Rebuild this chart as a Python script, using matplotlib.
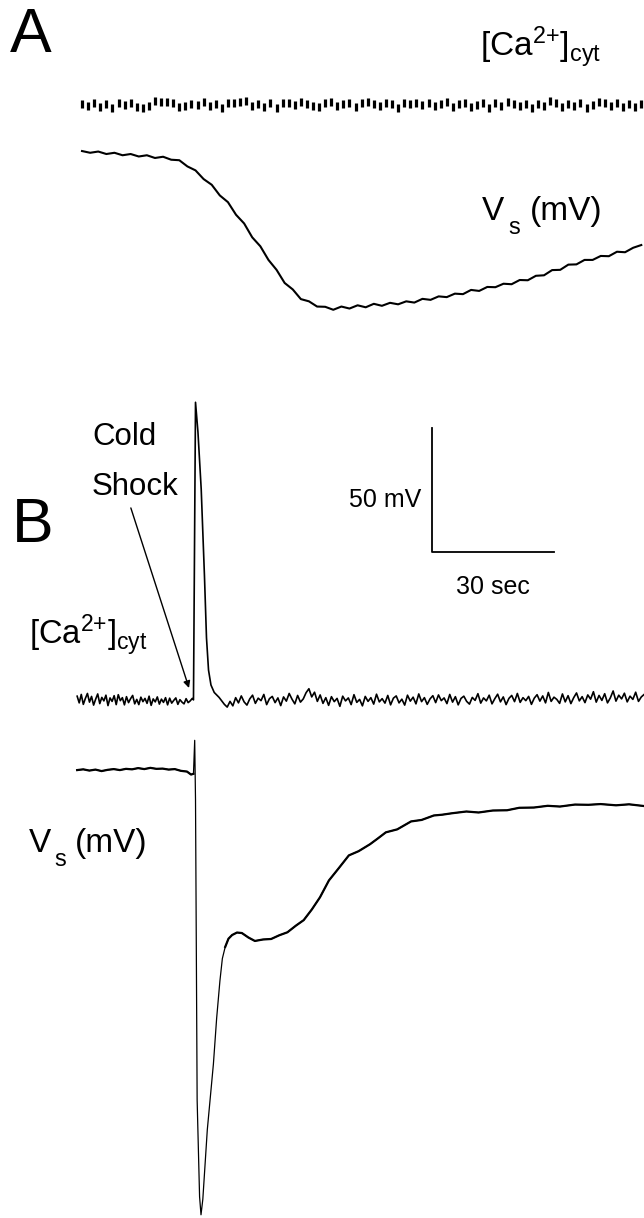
import numpy as np
import matplotlib
matplotlib.use('Agg')
import matplotlib.pyplot as plt

plt.rcParams['font.family'] = ['Liberation Sans', 'DejaVu Sans']
plt.rcParams['mathtext.fontset'] = 'custom'
plt.rcParams['mathtext.rm'] = 'Liberation Sans'
plt.rcParams['mathtext.it'] = 'Liberation Sans:italic'
plt.rcParams['mathtext.bf'] = 'Liberation Sans:bold'

# --- data (time in s, signal in mV relative to each trace's baseline) ---
# panel A, cytosolic Ca2+ (flat, beaded scan)
ca_a = [0.4, -0.3, 0.8, -0.8, 0.2, -1.2, 0.9, 0.1, 0.6, -0.9, -1.1, -0.4, 1.5, 1.3, 1.0, 0.9,
        -1.0, -0.3, 0.2, -0.2, 1.2, -0.6, 0.4, -1.1, 0.6, 0.9, 1.1, 1.4, -0.5, 0.3, -0.8, 0.8,
        -1.3, 0.9, 0.6, -0.2, 1.0, 0.5, -0.6, -0.9, 0.7, 1.2, -0.4, 0.3, 0.9, -0.7, 0.8, 1.0,
        0.2, -0.5, 0.6, 0.4, -1.2, 0.9, 0.3, 0.7, -0.1, 0.9, -0.6, 0.5, 1.1, -0.8, 0.4, 0.7,
        -1.0, -0.2, 0.6, -1.4, 0.8, -0.3, 1.3, 0.2, -0.6, 0.5, -1.1, 0.3, -0.4, 1.4, 0.6, -0.9,
        0.2, -0.5, 0.7, -1.2, 0.1, 1.0, 0.8, -0.3, 0.6, -0.7, 0.4, -0.9, 0.2]

# panel A, surface potential
vs_a = [-0.4, -1.1, -0.6, -1.6, -1.1, -2.1, -1.6, -2.6, -2.1, -3.2,
        -2.7, -3.9, -4.1, -6.6, -8.2, -11.7, -14.0, -18.3, -21.0, -26.1,
        -29.6, -35.2, -38.8, -44.3, -48.3, -53.6, -56.2, -60.1, -61.0, -63.1,
        -63.2, -64.4, -63.1, -63.9, -62.6, -63.4, -62.0, -62.8, -61.6, -62.2,
        -61.0, -61.5, -60.0, -60.4, -59.0, -59.3, -57.9, -58.1, -56.4, -56.8,
        -55.2, -55.3, -53.9, -54.1, -52.4, -52.5, -50.7, -50.5, -48.4, -48.3,
        -46.2, -46.1, -44.3, -44.3, -42.7, -42.8, -41.0, -41.2, -39.4, -38.3]

# panel B, Ca2+ : noise before shock, spike, noise after
ca_b_pre = [1.5, -1.2, 2.2, -1.8, 0.6, 2.6, -0.9, 1.4, -2.1, 0.3,
            2.4, -1.5, 1.0, -0.4, 1.9, -2.3, 0.8, -0.6, 1.7, -1.9,
            2.1, -0.3, 0.9, -2.0, 1.3, -1.1, 0.5, 1.8, -1.6, 0.2,
            -1.9, 1.1, -0.7, 0.6, -1.4, 1.5, -2.2, 0.4, -0.8, 1.2,
            -1.7, 0.3, -1.0, 0.9, -2.0, 0.7, -1.3, -0.2, 0.8, -1.8,
            0.1, -0.9, -1.6, 0.5, -1.1, -0.4, 0.6]
ca_b_spike_t = [27.9, 28.4, 29.0, 29.8, 30.6, 31.1, 31.6, 32.2, 33.0, 34.2]
ca_b_spike = [0.0, 120.0, 108.0, 85.0, 50.0, 25.0, 12.0, 6.0, 3.0, 1.0]
ca_b_post = [-1.8, -2.9, -0.6, -2.4, 0.9, -1.2, 1.6, -0.8, -2.1, 0.4,
             1.9, -1.4, 0.7, -0.3, 2.2, -1.9, 0.5, 1.4, -1.1, 0.8,
             -2.3, 1.2, -0.5, 2.6, 0.3, -1.6, 1.8, -0.9, 0.4, 2.9,
             4.5, 1.2, 3.1, -0.6, 2.0, -1.4, 0.9, -2.2, 1.3, -0.7,
             0.6, -2.6, 1.5, -0.4, 0.8, -1.9, 2.1, -1.0, 0.2, -2.4,
             1.4, -0.6, 0.9, -1.7, 2.3, -0.8, 0.5, -1.3, 1.8, -2.0,
             0.7, 1.6, -1.2, 0.3, -2.1, 1.9, -0.5, 1.1, -1.6, 2.4,
             -0.7, 0.9, -1.8, 0.4, 1.7, -1.1, 2.0, -0.3, 0.8, -1.5,
             2.2, -0.9, 1.3, -2.0, 0.6, 1.5, -0.6, -1.7, 1.0, -0.2,
             2.5, -1.3, 0.8, -0.4, 1.9, -1.6, 0.5, 2.3, -0.8, 1.2,
             -1.9, 0.6, 1.8, -0.7, 2.6, -1.0, 0.9, -0.3, 1.4, -1.8,
             0.7, 2.1, -0.5, 1.6, -1.2, 3.0, -0.6, 1.1, 0.2, -1.4,
             2.4, -0.8, 1.7, -1.5, 0.9, 2.8, -0.4, 1.3, -1.1, 2.0,
             0.3, 3.3, -0.9, 1.8, -0.2, 2.5, -1.2, 0.8, 3.6, -0.5,
             1.9, 0.4, 2.7, -0.8, 1.5, 0.2, 3.1, -0.6, 1.2, 2.2]

# panel B, surface potential
vs_b_t = [-0.7, 0.8, 2.3, 3.8, 5.3, 6.8, 8.3, 9.8, 11.3, 12.8, 14.3, 15.8, 17.3, 18.8, 20.3,
          21.8, 23.3, 24.8, 26.3, 27.3, 27.9,
          28.2, 28.4, 28.8, 29.4, 29.75, 30.2, 31.3, 32.8, 33.6, 34.4, 35.0, 35.7, 36.5, 37.4,
          38.6, 39.8, 41.4, 43.0, 45.0, 47.0, 49.0, 51.0, 53.1, 55.0, 57.0, 59.0, 61.2, 63.5,
          66.1, 68.5, 71.3, 73.2, 75.2, 78.0, 81.4, 84.0, 87.0, 89.0, 91.5, 93.0, 95.0, 98.0,
          101.5, 105.0, 108.0, 111.6, 115.0, 118.0, 121.7, 125.0, 128.0, 131.8, 135.0, 138.7]
vs_b = [0.0, 0.3, -0.2, 0.2, -0.4, 0.1, 0.4, 0.0, 0.5, 0.3, 0.8, 0.4, 0.9, 0.5, 0.6,
        0.2, 0.4, -0.3, -0.6, -1.8, -1.5,
        12.0, -12.0, -133.0, -172.0, -179.3, -173.0, -145.0, -118.5, -100.0, -85.0, -76.0, -71.3, -68.0, -66.5,
        -65.5, -65.7, -67.5, -68.9, -68.3, -68.1, -66.6, -65.4, -62.7, -60.5, -56.2, -51.3, -44.5, -39.8,
        -34.4, -32.7, -29.9, -27.6, -25.1, -23.9, -20.7, -20.1, -18.3, -18.0, -17.4, -17.1, -16.7, -17.1,
        -16.3, -16.2, -15.2, -15.1, -14.4, -14.7, -13.9, -14.0, -13.7, -14.2, -13.8, -14.5]

# --- layout: baselines of the traces on a shared (s, mV) canvas ---
base_ca_a = -42.3
base_vs_a = -60.5
base_ca_b = -282.2
base_vs_b = -310.5

fig = plt.figure(figsize=(6.44, 12.18), dpi=100)
ax = fig.add_axes([0, 0, 1, 1])
ax.set_xlim(-19.67, 138.67)
ax.set_ylim(-491.1, 0)
ax.axis('off')

# panel A
t_ca_a = np.linspace(0.5, 138.0, len(ca_a))
ax.plot(t_ca_a, np.array(ca_a) + base_ca_a, linestyle='none', marker='|',
        ms=5.5, mew=2.3, color='black')
t_vs_a = np.linspace(0.5, 138.0, len(vs_a))
ax.plot(t_vs_a, np.array(vs_a) + base_vs_a, color='black', lw=1.5)

# panel B, Ca2+
t_pre = np.linspace(-0.7, 27.6, len(ca_b_pre))
t_post = np.linspace(35.5, 138.7, len(ca_b_post))
t_ca_b = np.concatenate([t_pre, ca_b_spike_t, t_post])
v_ca_b = np.concatenate([ca_b_pre, ca_b_spike, ca_b_post])
ax.plot(t_ca_b, v_ca_b + base_ca_b, color='black', lw=1.2)

# panel B, Vs: thin for the fast part, thicker for slow parts
t_vb = np.array(vs_b_t)
v_vb = np.array(vs_b) + base_vs_b
ax.plot(t_vb, v_vb, color='black', lw=0.9)
slow1 = t_vb <= 27.9
slow2 = t_vb >= 35.7
ax.plot(t_vb[slow1], v_vb[slow1], color='black', lw=1.6)
ax.plot(t_vb[slow2], v_vb[slow2], color='black', lw=1.6)

# scale bar 30 s / 50 mV
sb_t, sb_v = 86.55, -222.6
ax.plot([sb_t, sb_t, sb_t + 30], [sb_v + 50, sb_v, sb_v], color='black', lw=1.3)
ax.text(sb_t - 2.7, sb_v + 21, '50 mV', ha='right', va='center', fontsize=18)
ax.text(sb_t + 15, sb_v - 14, '30 sec', ha='center', va='center', fontsize=18)

# labels
ax.text(-17.2, -20.8, 'A', fontsize=45, va='baseline')
ax.text(-16.7, -218.5, 'B', fontsize=45, va='baseline')
ax.text(98.4, -23.0, r'[Ca$^{2{+}}$]$_{\mathrm{cyt}}$', fontsize=24, va='baseline')
ax.text(-12.5, -260.0, r'[Ca$^{2{+}}$]$_{\mathrm{cyt}}$', fontsize=23.5, va='baseline')

# V_s (mV) labels, subscript set well below the baseline as in the original
ax.text(98.8, -88.7, 'V', fontsize=24, va='baseline')
ax.text(105.4, -94.2, 's', fontsize=17, va='baseline')
ax.text(110.6, -88.7, '(mV)', fontsize=24, va='baseline')
ax.text(-12.5, -343.5, 'V', fontsize=24, va='baseline')
ax.text(-6.2, -349.0, 's', fontsize=17, va='baseline')
ax.text(-1.3, -343.5, '(mV)', fontsize=24, va='baseline')

ax.text(2.95, -179.4, 'Cold', fontsize=22.5, va='baseline')
ax.text(2.95, -199.6, 'Shock', fontsize=22.5, va='baseline')
ax.annotate('', xy=(26.8, -277.4), xytext=(12.5, -204.8),
            arrowprops=dict(arrowstyle='-|>', lw=1.0, color='black',
                            mutation_scale=10, shrinkA=0, shrinkB=0))

plt.savefig('out.png', dpi=100)
